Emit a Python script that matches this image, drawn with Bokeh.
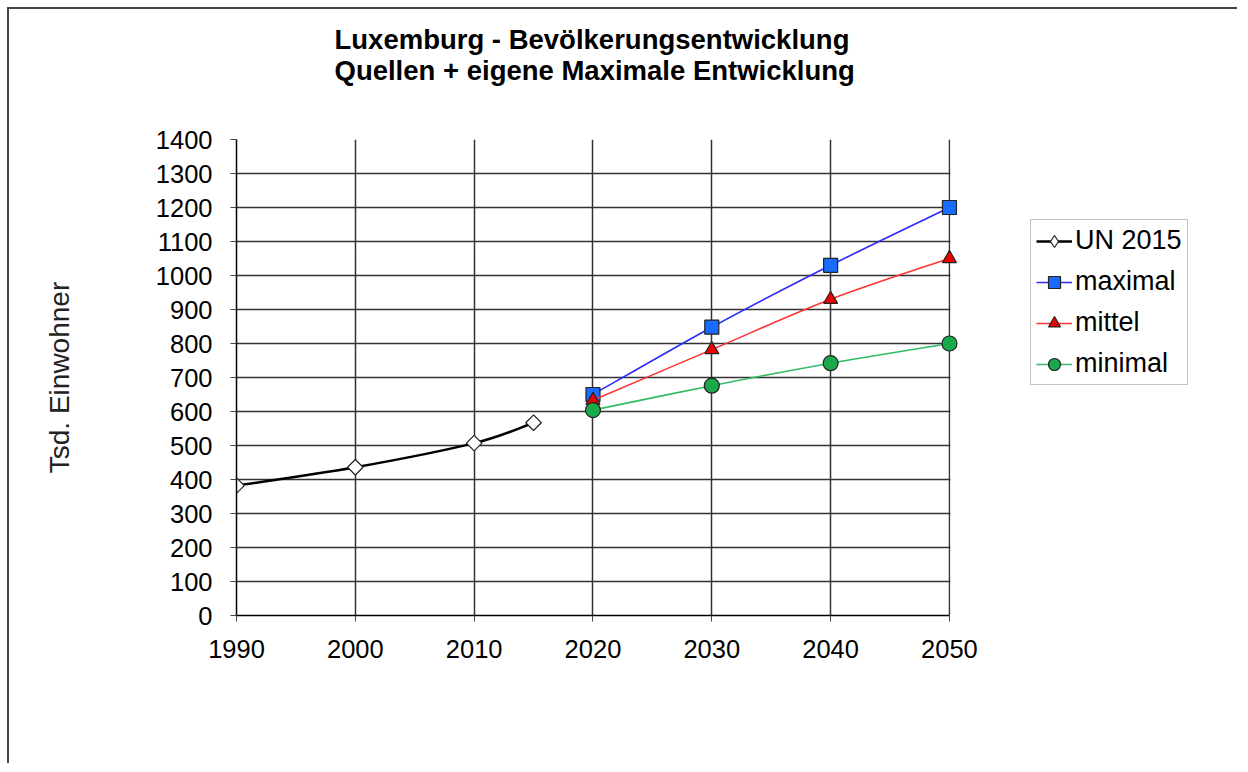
from bokeh.plotting import figure
from bokeh.models import Legend, LegendItem, Range1d, FixedTicker, Title, BoxAnnotation
from bokeh.embed import file_html
from bokeh.resources import INLINE

# ---- data ----
years_un = [1990, 2000, 2010, 2015]
pop_un = [382, 436, 507, 567]
years_proj = [2020, 2030, 2040, 2050]
pop_max = [650, 848, 1030, 1200]
pop_mid = [633, 782, 930, 1050]
pop_min = [604, 676, 742, 800]
x_ticks = [1990, 2000, 2010, 2020, 2030, 2040, 2050]
y_ticks = list(range(0, 1401, 100))
title_lines = ["Luxemburg - Bevölkerungsentwicklung", "Quellen + eigene Maximale Entwicklung"]

FONT = "Liberation Sans"
X0, X1 = x_ticks[0], x_ticks[-1]
X_EXTRA = 24.41  # frame extends to the right edge to host the legend (area blanked)


def smooth(xs, ys):
    """Bezier control points for a smoothed line through the given points."""
    n = len(xs)
    out = dict(x0=[], y0=[], x1=[], y1=[], cx0=[], cy0=[], cx1=[], cy1=[])
    for i in range(n - 1):
        xp, yp = (xs[i - 1], ys[i - 1]) if i > 0 else (xs[i], ys[i])
        xn, yn = (xs[i + 2], ys[i + 2]) if i + 2 < n else (xs[i + 1], ys[i + 1])
        out["x0"].append(xs[i]); out["y0"].append(ys[i])
        out["x1"].append(xs[i + 1]); out["y1"].append(ys[i + 1])
        out["cx0"].append(xs[i] + (xs[i + 1] - xp) / 6)
        out["cy0"].append(ys[i] + (ys[i + 1] - yp) / 6)
        out["cx1"].append(xs[i + 1] - (xn - xs[i]) / 6)
        out["cy1"].append(ys[i + 1] - (yn - ys[i]) / 6)
    return out


p = figure(width=1230, height=756, output_backend="svg", toolbar_location=None,
           x_range=Range1d(X0, X1 + X_EXTRA), y_range=Range1d(y_ticks[0], y_ticks[-1]),
           min_border_left=227, min_border_right=0, min_border_top=130,
           min_border_bottom=150, title=None)
p.styles = {"border-left": "2px solid #444444", "border-top": "2px solid #444444",
            "margin-left": "7px", "margin-top": "7px"}

# spacer (closest to frame) then the two-line title
p.add_layout(Title(text=" ", text_font_size="1px", standoff=40), "above")
p.add_layout(Title(text="\n".join(title_lines), align="left", offset=98, text_font=FONT,
                   text_font_size="27.5px", text_font_style="bold",
                   text_color="black", standoff=22), "above")

p.outline_line_color = None
p.background_fill_color = "white"

for ax in (p.xaxis, p.yaxis):
    ax.major_label_text_font = FONT
    ax.major_label_text_font_size = "25.5px"
    ax.major_label_text_color = "black"
    ax.major_tick_out = 6
    ax.major_tick_in = 0
    ax.minor_tick_line_color = None
    ax.axis_line_color = "black"
    ax.axis_line_width = 1.5
    ax.major_tick_line_color = "#444444"

p.xaxis.bounds = (X0, X1)
p.xaxis.ticker = FixedTicker(ticks=x_ticks)
p.yaxis.ticker = FixedTicker(ticks=y_ticks)
p.xaxis.major_label_standoff = 18
p.yaxis.major_label_standoff = 18
p.yaxis.axis_label = "Tsd. Einwohner"
p.yaxis.axis_label_text_font = FONT
p.yaxis.axis_label_text_font_size = "28px"
p.yaxis.axis_label_text_font_style = "normal"
p.yaxis.axis_label_text_color = "#222222"
p.yaxis.axis_label_standoff = 78

p.xgrid.ticker = FixedTicker(ticks=x_ticks)
p.ygrid.ticker = FixedTicker(ticks=y_ticks)
for g in (p.xgrid, p.ygrid):
    g.grid_line_color = "#333333"
    g.grid_line_width = 1.5
    g.grid_line_alpha = 1.0

# blank the part of the frame right of the last year (legend area)
p.add_layout(BoxAnnotation(left=X1 + 0.08, right=X1 + X_EXTRA + 5,
                           fill_color="white", fill_alpha=1.0,
                           line_color=None, level="underlay"))

series = [
    ("UN 2015", years_un, pop_un, "black", 2.5, "square", "white", 11, 0.7853981633974483),
    ("maximal", years_proj, pop_max, "#2a2aff", 1.6, "square", "#1a6cff", 14, 0),
    ("mittel", years_proj, pop_mid, "#ff3333", 1.6, "triangle", "#ee0000", 14, 0),
    ("minimal", years_proj, pop_min, "#33bb66", 1.6, "circle", "#1aaa4a", 15, 0),
]

items = []
for name, xs, ys, lc, lw, mk, fc, sz, ang in series:
    sm = smooth(xs, ys)
    r_line = p.bezier(x0=sm["x0"], y0=sm["y0"], x1=sm["x1"], y1=sm["y1"],
                      cx0=sm["cx0"], cy0=sm["cy0"], cx1=sm["cx1"], cy1=sm["cy1"],
                      line_color=lc, line_width=lw)
    r_marker = p.scatter(x=xs, y=ys, marker=mk, size=sz, angle=ang, fill_color=fc,
                         line_color="#222222", line_width=1.2)
    leg_rs = [r_line, r_marker]
    if ang:
        # legend-only symbol (legend ignores rotation): a diamond with no position
        r_sym = p.scatter(x=[float("nan")], y=[float("nan")], marker="diamond", size=13,
                          fill_color=fc, line_color="#222222", line_width=1.2)
        leg_rs = [r_line, r_sym]
    items.append(LegendItem(label=name, renderers=leg_rs))

legend = Legend(items=items, location=(794, 230))
legend.label_text_font = FONT
legend.label_text_font_size = "27px"
legend.label_text_color = "black"
legend.glyph_width = 36
legend.glyph_height = 30
legend.label_height = 30
legend.spacing = 10
legend.padding = 5
legend.margin = 0
legend.label_standoff = 3
legend.border_line_color = "#888888"
legend.border_line_width = 1.2
p.add_layout(legend, "center")

open("out.html", "w").write(file_html(p, INLINE))
